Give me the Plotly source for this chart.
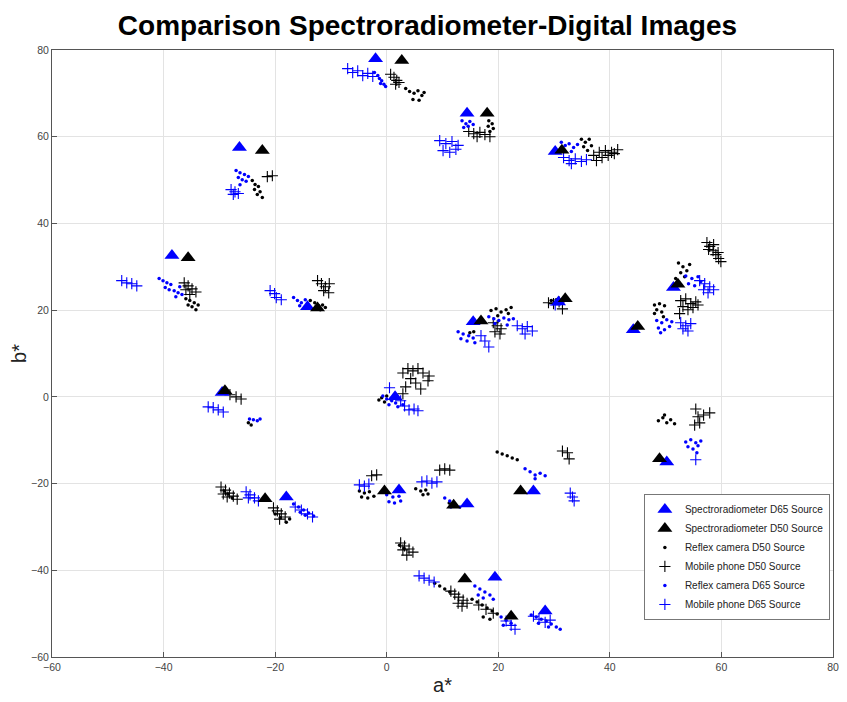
import plotly.graph_objects as go

# ---------------- data (a*, b*) ----------------
SPEC_D65 = [(-2.0, 78.0), (14.4, 65.4), (-26.4, 57.5), (30.2, 56.6), (-38.5, 32.6),
            (-14.2, 20.8), (15.5, 17.3), (30.8, 21.9), (51.4, 25.2), (44.2, 15.5),
            (1.5, 0.0), (-29.5, 1.0), (50.2, -15.0), (-18.0, -23.1), (2.2, -21.5),
            (14.4, -24.7), (26.3, -21.7), (19.4, -41.6), (28.4, -49.4)]
SPEC_D50 = [(2.7, 77.6), (18.0, 65.4), (-22.3, 56.8), (31.4, 56.9), (-35.6, 32.1),
            (-12.4, 20.5), (16.9, 17.5), (32.0, 22.6), (52.2, 26.0), (45.0, 16.2),
            (-29.0, 1.4), (48.9, -14.3), (-21.8, -23.5), (-0.4, -21.7), (12.0, -25.0),
            (24.0, -21.7), (14.0, -42.0), (22.3, -50.6)]

REFLEX_D50 = [
    (3.4, 71.1), (4.1, 70.4), (4.9, 70.0), (5.6, 70.6), (6.3, 69.5), (4.7, 68.6), (5.8, 68.4), (6.7, 70.2),
    (18.3, 63.7), (18.9, 63.0), (18.2, 62.4), (19.1, 61.9), (18.5, 61.2),
    (34.9, 59.4), (35.6, 58.7), (36.3, 59.4), (35.3, 57.7), (36.7, 57.9), (36.0, 56.8),
    (-24.1, 49.9), (-23.6, 49.0), (-23.0, 48.5), (-23.7, 47.8), (-22.7, 47.3), (-23.2, 46.7), (-22.3, 46.0),
    (-36.0, 22.6), (-35.3, 22.2), (-34.5, 21.7), (-35.6, 21.2), (-34.9, 20.8), (-33.8, 21.2), (-34.2, 20.1),
    (-13.7, 22.2), (-12.9, 21.7), (-12.2, 21.0), (-11.5, 21.2), (-11.9, 20.1), (-11.0, 20.6),
    (-1.4, -0.7), (-0.9, -0.2), (0.0, 0.2), (0.7, -0.5), (-0.4, -1.2),
    (14.9, 14.8), (15.6, 15.0),
    (18.7, 19.9), (19.6, 20.3), (20.5, 19.6), (21.4, 20.1), (22.3, 20.6), (19.9, 18.7), (21.8, 19.2),
    (29.5, 22.2), (30.4, 22.4),
    (52.3, 30.9), (53.1, 30.0), (53.8, 29.1), (52.7, 28.6), (53.4, 27.7), (54.3, 30.5), (51.8, 27.3),
    (48.0, 21.2), (48.9, 21.5), (49.8, 21.0), (48.4, 20.1), (49.3, 19.6), (48.0, 19.2), (49.6, 18.5),
    (48.7, -5.5), (49.5, -4.8), (50.2, -6.0), (50.9, -5.3), (51.6, -6.2), (49.8, -4.2),
    (-24.8, -6.0), (-24.3, -6.5),
    (-29.1, -21.7), (-28.4, -22.4), (-27.7, -23.3),
    (-20.0, -27.0), (-19.1, -27.9), (-18.0, -28.9), (-17.4, -28.2),
    (-4.9, -21.7), (-4.0, -22.2), (-3.1, -21.9), (-4.5, -23.1), (-3.4, -23.3), (-2.3, -22.9),
    (5.2, -21.2), (6.1, -21.7), (7.0, -21.5), (6.5, -22.6), (7.4, -22.4),
    (11.2, -24.5), (11.9, -25.2),
    (2.3, -34.2), (3.1, -34.9),
    (19.8, -12.7), (20.7, -13.2), (21.6, -13.6), (22.5, -14.1), (23.4, -14.5),
    (8.6, -43.0), (9.5, -43.6), (10.4, -44.3), (11.3, -45.0),
    (15.3, -46.7), (16.2, -47.3), (17.1, -48.0), (18.0, -48.7), (18.9, -49.4), (19.8, -50.1), (17.3, -50.8), (18.5, -51.3),
]
MOBILE_D50 = [
    (0.7, 74.4), (1.3, 73.7), (1.8, 73.0), (1.6, 72.1), (2.2, 72.5),
    (14.7, 61.2), (15.6, 60.7), (16.7, 61.0), (17.6, 60.5), (18.5, 60.0), (16.2, 60.0),
    (37.1, 55.7), (38.1, 56.4), (39.2, 56.8), (40.3, 56.4), (41.4, 57.0), (38.6, 55.2), (39.7, 55.7), (40.8, 56.1), (37.6, 54.5),
    (-21.4, 50.8), (-20.5, 51.0),
    (-36.3, 26.3), (-35.6, 25.6), (-34.9, 24.9), (-34.2, 24.2), (-35.3, 23.6), (-36.0, 24.7),
    (-12.4, 26.8), (-11.7, 26.1), (-11.0, 25.4), (-10.3, 26.1), (-11.3, 24.5), (-10.4, 24.0),
    (2.9, 5.5), (3.8, 6.5), (4.7, 6.0), (5.6, 6.5), (6.5, 5.5), (7.6, 4.8), (4.3, 4.2), (5.2, 3.2),
    (3.4, 2.3), (6.1, 1.8), (7.4, 3.7), (2.9, 0.7),
    (19.1, 17.1), (19.8, 16.4), (20.5, 15.7), (19.4, 15.0), (20.3, 14.5),
    (29.0, 21.7), (29.9, 21.5), (30.9, 21.9), (31.5, 20.3),
    (57.4, 35.6), (57.9, 34.7), (58.5, 33.7), (59.0, 32.8), (59.5, 31.9), (59.9, 31.2), (57.7, 34.0), (58.6, 35.1), (59.4, 33.3),
    (52.7, 22.2), (53.6, 22.6), (54.5, 21.5), (55.4, 21.9), (53.1, 20.8), (54.0, 20.1), (54.9, 20.6), (55.8, 21.2), (52.5, 19.2),
    (55.4, -2.8), (55.8, -4.6), (56.1, -6.0), (56.8, -4.2), (57.9, -3.7), (55.2, -6.5),
    (-28.1, 0.5), (-27.0, 0.0), (-26.1, -0.5),
    (-29.7, -20.8), (-28.9, -21.5), (-28.2, -22.2), (-27.5, -22.9), (-26.8, -23.6), (-28.6, -23.1), (-29.3, -22.4),
    (-20.3, -25.6), (-19.6, -26.3), (-18.9, -27.0), (-18.2, -27.7), (-19.2, -28.2),
    (-2.7, -18.2), (-1.8, -18.0),
    (9.5, -16.9), (10.4, -16.6), (11.3, -16.9),
    (2.5, -33.7), (3.2, -34.4), (4.0, -35.1), (4.7, -35.8), (3.6, -36.5), (2.9, -35.3),
    (31.5, -12.5), (32.4, -12.9), (32.7, -14.3),
    (11.5, -44.8), (12.2, -45.5), (12.9, -46.2), (13.7, -46.9), (14.4, -47.6), (12.8, -47.6), (13.5, -48.3),
    (16.5, -48.0), (17.8, -49.0), (19.1, -49.9),
]
REFLEX_D65 = [
    (-2.2, 74.8), (-1.6, 74.1), (-1.3, 73.4), (-0.9, 72.9), (-0.5, 72.1), (-1.1, 72.3), (-0.2, 71.6),
    (13.5, 63.7), (14.2, 63.0), (14.9, 63.5), (14.6, 62.4), (15.5, 62.8), (13.8, 62.1),
    (31.3, 58.7), (32.0, 58.0), (32.7, 58.4), (33.5, 57.5), (34.2, 58.2), (31.7, 56.8), (33.1, 56.6),
    (-27.0, 52.2), (-26.3, 51.7), (-25.5, 51.3), (-26.6, 50.6), (-25.9, 50.1), (-25.2, 49.7), (-24.8, 50.8), (-26.3, 48.9),
    (-40.8, 27.3), (-40.1, 26.8), (-39.4, 26.3), (-38.7, 25.9), (-39.7, 25.2), (-39.0, 24.7), (-38.1, 24.5),
    (-37.4, 24.0), (-36.7, 23.6), (-37.8, 23.1), (-37.1, 25.4),
    (-16.7, 22.9), (-16.0, 22.2), (-15.3, 21.7), (-14.6, 22.4), (-15.6, 21.0), (-14.7, 20.6),
    (-0.7, 0.2), (0.0, -0.5), (0.9, -0.9), (1.6, -1.4), (0.4, -1.8), (2.0, -2.3), (2.9, -1.8), (1.4, -0.2),
    (12.8, 15.0), (13.7, 14.5), (14.7, 14.1), (15.5, 13.6), (13.3, 13.4), (14.4, 12.9), (15.8, 12.5),
    (18.3, 18.5), (19.2, 18.0), (20.1, 17.6), (21.0, 18.2), (21.9, 17.8), (19.4, 16.9), (21.6, 16.6), (22.7, 18.0),
    (53.6, 27.9), (54.7, 27.3), (55.8, 27.7), (54.1, 26.1), (55.2, 25.6), (56.3, 26.6),
    (48.4, 17.6), (49.3, 17.1), (50.2, 17.8), (51.1, 17.3), (48.7, 15.9), (49.8, 15.5), (50.7, 16.2), (49.1, 14.8),
    (53.6, -10.4), (54.5, -9.9), (55.4, -10.6), (56.3, -10.2), (54.0, -11.5), (54.9, -12.0), (55.8, -11.3), (55.6, -12.9),
    (-24.6, -5.1), (-23.9, -5.3), (-23.2, -5.5), (-22.7, -5.1),
    (-16.7, -24.7), (-15.8, -25.4), (-14.9, -26.1), (-14.0, -26.8), (-13.1, -27.5), (-15.5, -26.6), (-14.6, -27.3),
    (0.0, -22.6), (1.1, -23.1), (2.2, -22.9), (0.4, -24.2), (1.4, -24.5), (2.5, -24.0),
    (10.4, -23.3), (11.3, -24.0), (12.2, -24.7), (13.1, -25.4), (11.5, -25.4),
    (24.8, -16.6), (25.7, -17.3), (26.6, -18.0), (27.5, -17.6), (28.4, -18.2), (26.6, -18.9),
    (15.8, -43.6), (16.7, -44.3), (17.6, -45.0), (18.5, -45.7), (16.4, -45.7), (17.3, -46.4), (19.1, -46.7),
    (20.5, -50.8), (21.4, -51.5), (22.3, -52.2), (20.9, -52.7),
    (25.9, -50.3), (26.8, -50.8), (27.7, -51.3), (28.6, -51.7), (29.5, -52.4), (30.4, -53.1), (31.1, -53.6), (27.2, -52.2), (29.0, -53.1),
]
MOBILE_D65 = [
    (-7.0, 75.7), (-6.1, 74.8), (-5.2, 75.2), (-4.3, 74.1), (-3.4, 74.6), (-2.5, 73.9),
    (9.5, 59.1), (10.6, 58.4), (11.7, 58.9), (12.8, 58.0), (10.1, 56.8), (11.3, 56.4), (12.4, 57.1),
    (31.7, 55.2), (32.7, 54.5), (33.8, 54.9), (34.9, 54.3), (35.8, 54.7), (33.1, 53.8),
    (-27.9, 47.8), (-27.2, 47.3), (-26.6, 46.9), (-27.5, 46.7),
    (-47.5, 26.8), (-46.6, 26.3), (-45.7, 26.1), (-44.8, 25.6),
    (-20.9, 24.5), (-20.1, 23.8), (-19.8, 22.9), (-18.9, 22.4),
    (0.5, 2.1), (2.5, -0.9), (3.2, -2.1), (4.0, -3.0), (4.9, -2.8), (5.6, -3.2),
    (16.9, 14.1), (17.6, 12.9), (18.3, 11.5), (23.4, 16.4), (24.3, 15.7), (25.2, 16.2), (26.1, 15.2), (24.8, 14.5),
    (30.2, 21.2),
    (56.1, 26.8), (57.0, 26.1), (57.9, 25.4), (58.6, 24.7), (56.8, 24.7), (57.6, 24.0),
    (52.7, 17.1), (53.6, 16.4), (54.5, 16.9), (53.1, 15.7), (54.0, 15.2),
    (55.4, -14.5),
    (-32.0, -2.3), (-31.1, -2.5), (-30.2, -3.0), (-29.3, -3.5),
    (-25.2, -21.9), (-24.5, -22.6), (-23.7, -23.3), (-23.0, -24.0), (-24.8, -23.3),
    (-16.4, -25.4), (-15.3, -26.1), (-14.2, -27.0), (-13.3, -27.7),
    (-4.9, -20.3), (-4.0, -20.6), (-3.2, -20.1),
    (6.3, -19.6), (7.2, -19.4), (8.1, -19.9), (9.0, -19.6),
    (32.9, -22.2), (33.3, -23.1), (33.6, -24.0),
    (5.8, -41.3), (6.7, -41.8), (7.6, -42.3), (8.5, -42.7),
    (21.4, -51.7), (22.3, -52.7), (23.0, -53.6),
    (26.3, -50.6), (27.3, -51.3), (28.4, -52.0), (29.3, -51.5),
]

BLUE = "#0000ff"
BLACK = "#000000"
FONT = "Liberation Sans, Arial, sans-serif"


def xs(pts):
    return [p[0] for p in pts]


def ys(pts):
    return [p[1] for p in pts]


fig = go.Figure()

fig.add_trace(go.Scatter(x=xs(REFLEX_D50), y=ys(REFLEX_D50), mode="markers",
                         name="Reflex camera D50 Source", legendrank=3,
                         marker=dict(symbol="circle", size=3.5, color=BLACK)))
fig.add_trace(go.Scatter(x=xs(MOBILE_D50), y=ys(MOBILE_D50), mode="markers",
                         name="Mobile phone D50 Source", legendrank=4,
                         marker=dict(symbol="cross-thin", size=8,
                                     line=dict(width=1.1, color=BLACK), color=BLACK)))
fig.add_trace(go.Scatter(x=xs(REFLEX_D65), y=ys(REFLEX_D65), mode="markers",
                         name="Reflex camera D65 Source", legendrank=5,
                         marker=dict(symbol="circle", size=3.5, color=BLUE)))
fig.add_trace(go.Scatter(x=xs(MOBILE_D65), y=ys(MOBILE_D65), mode="markers",
                         name="Mobile phone D65 Source", legendrank=6,
                         marker=dict(symbol="cross-thin", size=8,
                                     line=dict(width=1.1, color=BLUE), color=BLUE)))
fig.add_trace(go.Scatter(x=xs(SPEC_D65), y=ys(SPEC_D65), mode="markers",
                         name="Spectroradiometer D65 Source", legendrank=1,
                         marker=dict(symbol="triangle-up", size=13, color=BLUE)))
fig.add_trace(go.Scatter(x=xs(SPEC_D50), y=ys(SPEC_D50), mode="markers",
                         name="Spectroradiometer D50 Source", legendrank=2,
                         marker=dict(symbol="triangle-up", size=13, color=BLACK)))

axis_common = dict(range=[-60, 80], dtick=20, tick0=-60, showgrid=True,
                   gridcolor="#e3e3e3", gridwidth=1, zeroline=False,
                   showline=True, linecolor="#555555", linewidth=1, mirror=True,
                   ticks="inside", ticklen=5, tickcolor="#555555", automargin=False,
                   tickfont=dict(family=FONT, size=10.5, color="#444444"))

fig.update_layout(
    width=839, height=694,
    margin=dict(l=44, r=14, t=42, b=45),
    paper_bgcolor="white", plot_bgcolor="white",
    title=dict(text="<b>Comparison Spectroradiometer-Digital Images</b>",
               x=0.5, xanchor="center", y=0.975, yanchor="middle",
               font=dict(family=FONT, size=28, color="black")),
    xaxis=dict(**axis_common, title=dict(text="a*", standoff=6,
                                         font=dict(family=FONT, size=20, color="#222222"))),
    yaxis=dict(**axis_common, title=dict(text="b*", standoff=6,
                                         font=dict(family=FONT, size=20, color="#222222"))),
    legend=dict(x=0.996, y=0.061, xanchor="right", yanchor="bottom",
                bgcolor="white", bordercolor="#777777", borderwidth=1,
                font=dict(family=FONT, size=10, color="#222222"),
                itemsizing="trace", tracegroupgap=0),
    showlegend=True,
)

fig.write_html("out.html")
